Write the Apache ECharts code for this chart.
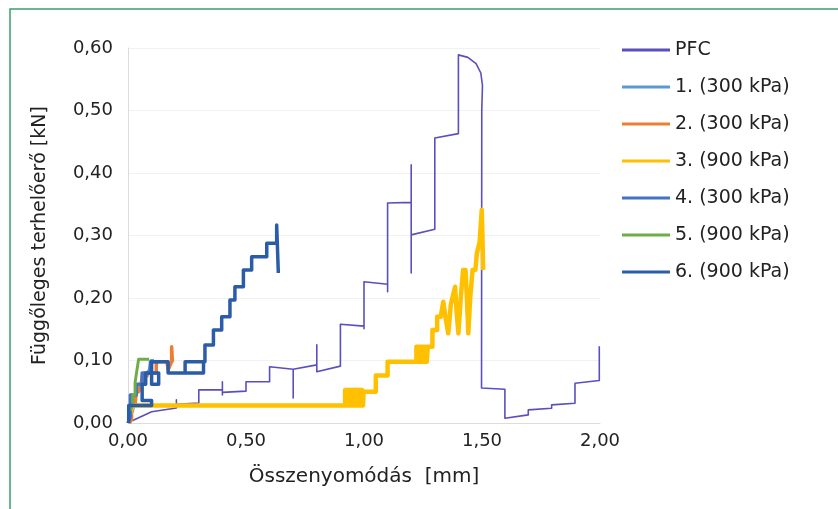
<!DOCTYPE html>
<html>
<head>
<meta charset="utf-8">
<script src="https://cdn.jsdelivr.net/npm/echarts@6/dist/echarts.min.js"></script>
<style>
  html, body { margin: 0; padding: 0; background: #ffffff; }
  #chart { width: 838px; height: 509px; }
</style>
</head>
<body>
<div id="chart"></div>
<script>
// ---- data (x: Összenyomódás [mm], y: Függőleges terhelőerő [kN]) ----
const seriesNames = ['PFC', '1. (300 kPa)', '2. (300 kPa)', '3. (900 kPa)', '4. (300 kPa)', '5. (900 kPa)', '6. (900 kPa)'];
const xTickLabels = ['0,00', '0,50', '1,00', '1,50', '2,00'];
const yTickLabels = ['0,00', '0,10', '0,20', '0,30', '0,40', '0,50', '0,60'];

const pfc = [
  [0.02,0.004],[0.10,0.018],[0.205,0.024],[0.205,0.037],[0.205,0.030],[0.30,0.032],[0.30,0.053],
  [0.40,0.053],[0.40,0.066],[0.40,0.045],[0.40,0.049],[0.50,0.051],[0.50,0.066],[0.60,0.066],
  [0.60,0.090],[0.70,0.086],[0.70,0.040],[0.70,0.086],[0.80,0.093],[0.80,0.125],[0.80,0.082],
  [0.90,0.091],[0.90,0.158],[1.00,0.155],[1.00,0.151],[1.00,0.226],[1.10,0.222],[1.10,0.210],
  [1.10,0.352],[1.20,0.353],[1.20,0.413],[1.20,0.240],[1.20,0.301],[1.30,0.310],[1.30,0.456],
  [1.40,0.463],[1.40,0.589],[1.44,0.585],[1.475,0.575],[1.495,0.560],[1.502,0.540],[1.499,0.500],
  [1.498,0.056],[1.597,0.054],[1.597,0.0075],[1.696,0.013],[1.696,0.021],[1.795,0.0235],
  [1.795,0.029],[1.894,0.0315],[1.894,0.0635],[1.997,0.068],[1.997,0.123]
];
const s1 = [
  [0.0,0.0],[0.02,0.02],[0.03,0.04],[0.05,0.06],[0.07,0.075],[0.09,0.085],[0.098,0.1],[0.11,0.1]
];
const s2 = [
  [0.005,0.0],[0.015,0.005],[0.015,0.03],[0.03,0.03],[0.035,0.05],[0.045,0.05],[0.055,0.06],
  [0.06,0.075],[0.08,0.075],[0.085,0.08],[0.12,0.08],[0.12,0.098],[0.165,0.098],[0.17,0.085],
  [0.185,0.098],[0.185,0.122],[0.188,0.098]
];
const s3 = [
  [0.005,0.01],[0.02,0.028],[0.92,0.028],
  [0.920,0.053],[0.924,0.053],[0.924,0.028],[0.928,0.028],[0.928,0.053],[0.932,0.053],[0.932,0.028],
  [0.936,0.028],[0.936,0.053],[0.940,0.053],[0.940,0.028],[0.944,0.028],[0.944,0.053],[0.948,0.053],
  [0.948,0.028],[0.952,0.028],[0.952,0.053],[0.956,0.053],[0.956,0.028],[0.960,0.028],[0.960,0.053],
  [0.964,0.053],[0.964,0.028],[0.968,0.028],[0.968,0.053],[0.972,0.053],[0.972,0.028],[0.976,0.028],
  [0.976,0.053],[0.980,0.053],[0.980,0.028],[0.984,0.028],[0.984,0.053],[0.988,0.053],[0.988,0.028],
  [0.992,0.028],[0.992,0.053],[0.996,0.053],[0.996,0.028],[0.998,0.028],[0.998,0.05],
  [1.05,0.05],[1.05,0.076],[1.10,0.076],[1.10,0.098],[1.222,0.098],
  [1.222,0.122],[1.226,0.122],[1.226,0.098],[1.230,0.098],[1.230,0.122],[1.234,0.122],[1.234,0.098],
  [1.238,0.098],[1.238,0.122],[1.242,0.122],[1.242,0.098],[1.246,0.098],[1.246,0.122],[1.250,0.122],
  [1.250,0.098],[1.254,0.098],[1.254,0.122],[1.258,0.122],[1.258,0.098],[1.262,0.098],[1.262,0.122],
  [1.266,0.122],[1.266,0.098],[1.270,0.098],[1.270,0.122],
  [1.29,0.122],[1.29,0.149],[1.31,0.149],[1.31,0.17],[1.325,0.17],[1.336,0.194],[1.345,0.17],
  [1.357,0.1435],[1.368,0.19],[1.386,0.218],[1.392,0.18],[1.40,0.1435],[1.41,0.2],[1.42,0.245],
  [1.43,0.245],[1.436,0.2],[1.442,0.1435],[1.45,0.2],[1.46,0.245],[1.472,0.245],[1.478,0.271],
  [1.49,0.29],[1.499,0.341],[1.503,0.28],[1.505,0.245]
];
const s4 = [
  [0.0,0.0],[0.01,0.01],[0.01,0.045],[0.035,0.045],[0.035,0.062],[0.06,0.062],[0.06,0.08],
  [0.095,0.08],[0.095,0.098],[0.13,0.098]
];
const s5 = [
  [0.01,0.02],[0.02,0.03],[0.02,0.045],[0.03,0.045],[0.03,0.065],[0.038,0.065],[0.038,0.085],
  [0.045,0.085],[0.045,0.102],[0.09,0.102]
];
const s6 = [
  [0.003,0.0],[0.003,0.028],[0.10,0.028],[0.10,0.036],[0.06,0.036],[0.06,0.062],[0.075,0.062],
  [0.075,0.08],[0.10,0.08],[0.10,0.062],[0.13,0.062],[0.13,0.08],[0.10,0.08],[0.10,0.098],
  [0.17,0.098],[0.17,0.08],[0.32,0.08],[0.32,0.098],[0.242,0.098],[0.242,0.08],[0.242,0.098],
  [0.326,0.098],[0.326,0.125],[0.362,0.125],[0.362,0.149],[0.397,0.149],[0.397,0.17],
  [0.432,0.17],[0.432,0.197],[0.453,0.197],[0.453,0.218],[0.489,0.218],[0.489,0.245],
  [0.524,0.245],[0.524,0.266],[0.588,0.266],[0.588,0.2875],[0.630,0.2875],[0.630,0.317],
  [0.637,0.317],[0.637,0.24]
];

const seriesData = [pfc, s1, s2, s3, s4, s5, s6];
const colors = ['#5a4fbf', '#5B9BD5', '#ED7D31', '#FFC000', '#4472C4', '#70AD47', '#2b5ca8'];
const widths = [1.6, 3, 3.5, 4.5, 3.5, 3, 3.5];

const chart = echarts.init(document.getElementById('chart'), null, { renderer: 'canvas' });
const FONT = '"DejaVu Sans", "Liberation Sans", Arial, sans-serif';

chart.setOption({
  animation: false,
  backgroundColor: '#ffffff',
  color: colors,
  graphic: [{
    type: 'rect',
    shape: { x: 10, y: 9, width: 1000, height: 1000 },
    style: { fill: 'none', stroke: '#3a9e6e', lineWidth: 1.5 },
    silent: true,
    z: 100
  }],
  grid: { left: 128, right: 238, top: 48, bottom: 86, containLabel: false },
  legend: {
    orient: 'vertical',
    left: 617,
    top: 35,
    icon: 'rect',
    itemWidth: 48,
    itemHeight: 3,
    itemGap: 17,
    data: seriesNames,
    textStyle: { fontFamily: FONT, fontSize: 19, color: '#222222', lineHeight: 20 }
  },
  xAxis: {
    type: 'value',
    min: 0, max: 2, interval: 0.5,
    name: 'Összenyomódás  [mm]',
    nameLocation: 'middle',
    nameGap: 44,
    nameTextStyle: { fontFamily: FONT, fontSize: 20, color: '#222222' },
    axisLine: { show: true, lineStyle: { color: '#dcdcdc', width: 1 } },
    axisTick: { show: false },
    splitLine: { show: false },
    axisLabel: {
      fontFamily: FONT, fontSize: 18, color: '#222222', margin: 9,
      formatter: function (v) { return xTickLabels[Math.round(v / 0.5)]; }
    }
  },
  yAxis: {
    type: 'value',
    min: 0, max: 0.6, interval: 0.1,
    name: 'Függőleges terhelőerő [kN]',
    nameLocation: 'middle',
    nameGap: 78,
    nameRotate: 90,
    nameTextStyle: { fontFamily: FONT, fontSize: 19, color: '#222222' },
    axisLine: { show: true, lineStyle: { color: '#dcdcdc', width: 1 } },
    axisTick: { show: false },
    splitLine: { show: true, lineStyle: { color: '#f1f1f1', width: 1 } },
    axisLabel: {
      fontFamily: FONT, fontSize: 18, color: '#222222', margin: 15,
      formatter: function (v) { return yTickLabels[Math.round(v / 0.1)]; }
    }
  },
  series: seriesNames.map(function (name, i) {
    return {
      name: name,
      type: 'line',
      data: seriesData[i],
      showSymbol: false,
      symbol: 'none',
      clip: true,
      lineStyle: { color: colors[i], width: widths[i], join: 'round', cap: 'butt' },
      itemStyle: { color: colors[i] },
      emphasis: { disabled: true }
    };
  })
});
</script>
</body>
</html>
